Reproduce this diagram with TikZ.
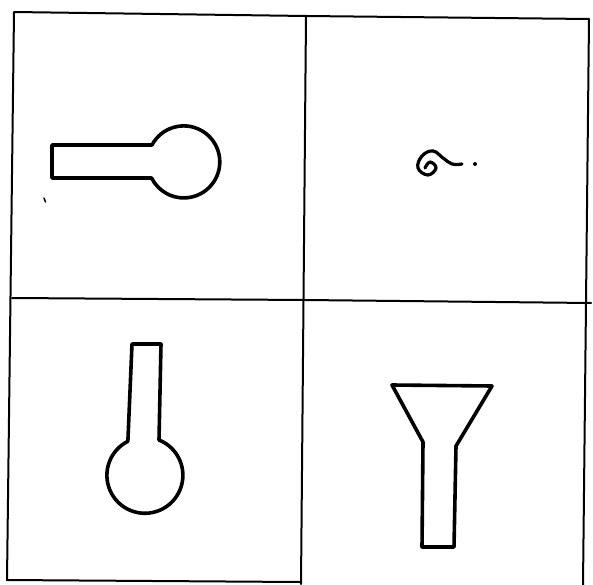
\documentclass[tikz,border=0pt]{standalone}
\begin{document}
\begin{tikzpicture}[x=1bp,y=-1bp,
  gridline/.style={line width=2bp, line cap=round, line join=round},
  outline/.style={line width=3.6bp, line cap=round, line join=round}]
\useasboundingbox (0,0) rectangle (593,585);
\fill[white] (0,0) rectangle (593,585);
% grid
\draw[gridline] (7,580) -- (14,12) -- (306,16) -- (589,19) -- (583,585);
\draw[gridline] (12,298) -- (305,300) -- (591,303);
\draw[gridline] (306,16) -- (301,584);
\draw[gridline] (7,580) -- (300,582);
% top-left: key shape
\draw[outline] (152,145) arc[start angle=208,end angle=513.4,radius=36] -- (52,178) -- (52,145) -- cycle;
\draw[line width=1.5bp, line cap=round] (44,198) -- (45.5,202);
% top-right: squiggle
\draw[outline, line width=3.2bp] plot[smooth, tension=0.7] coordinates {(425,168) (430,162) (436,168) (428,175) (418,168) (422,156) (433,151) (443,158) (452,164) (462,164)};
\fill (475,164) circle (2);
% bottom-left: flask
\draw[outline] (132,344) -- (161,344) -- (159,440) arc[start angle=291.8,end angle=603.4,radius=38] -- cycle;
% bottom-right: funnel
\draw[outline] (392,385) -- (492,386) -- (456,446) -- (454,547) -- (422,547) -- (423,442) -- cycle;
\end{tikzpicture}
\end{document}
